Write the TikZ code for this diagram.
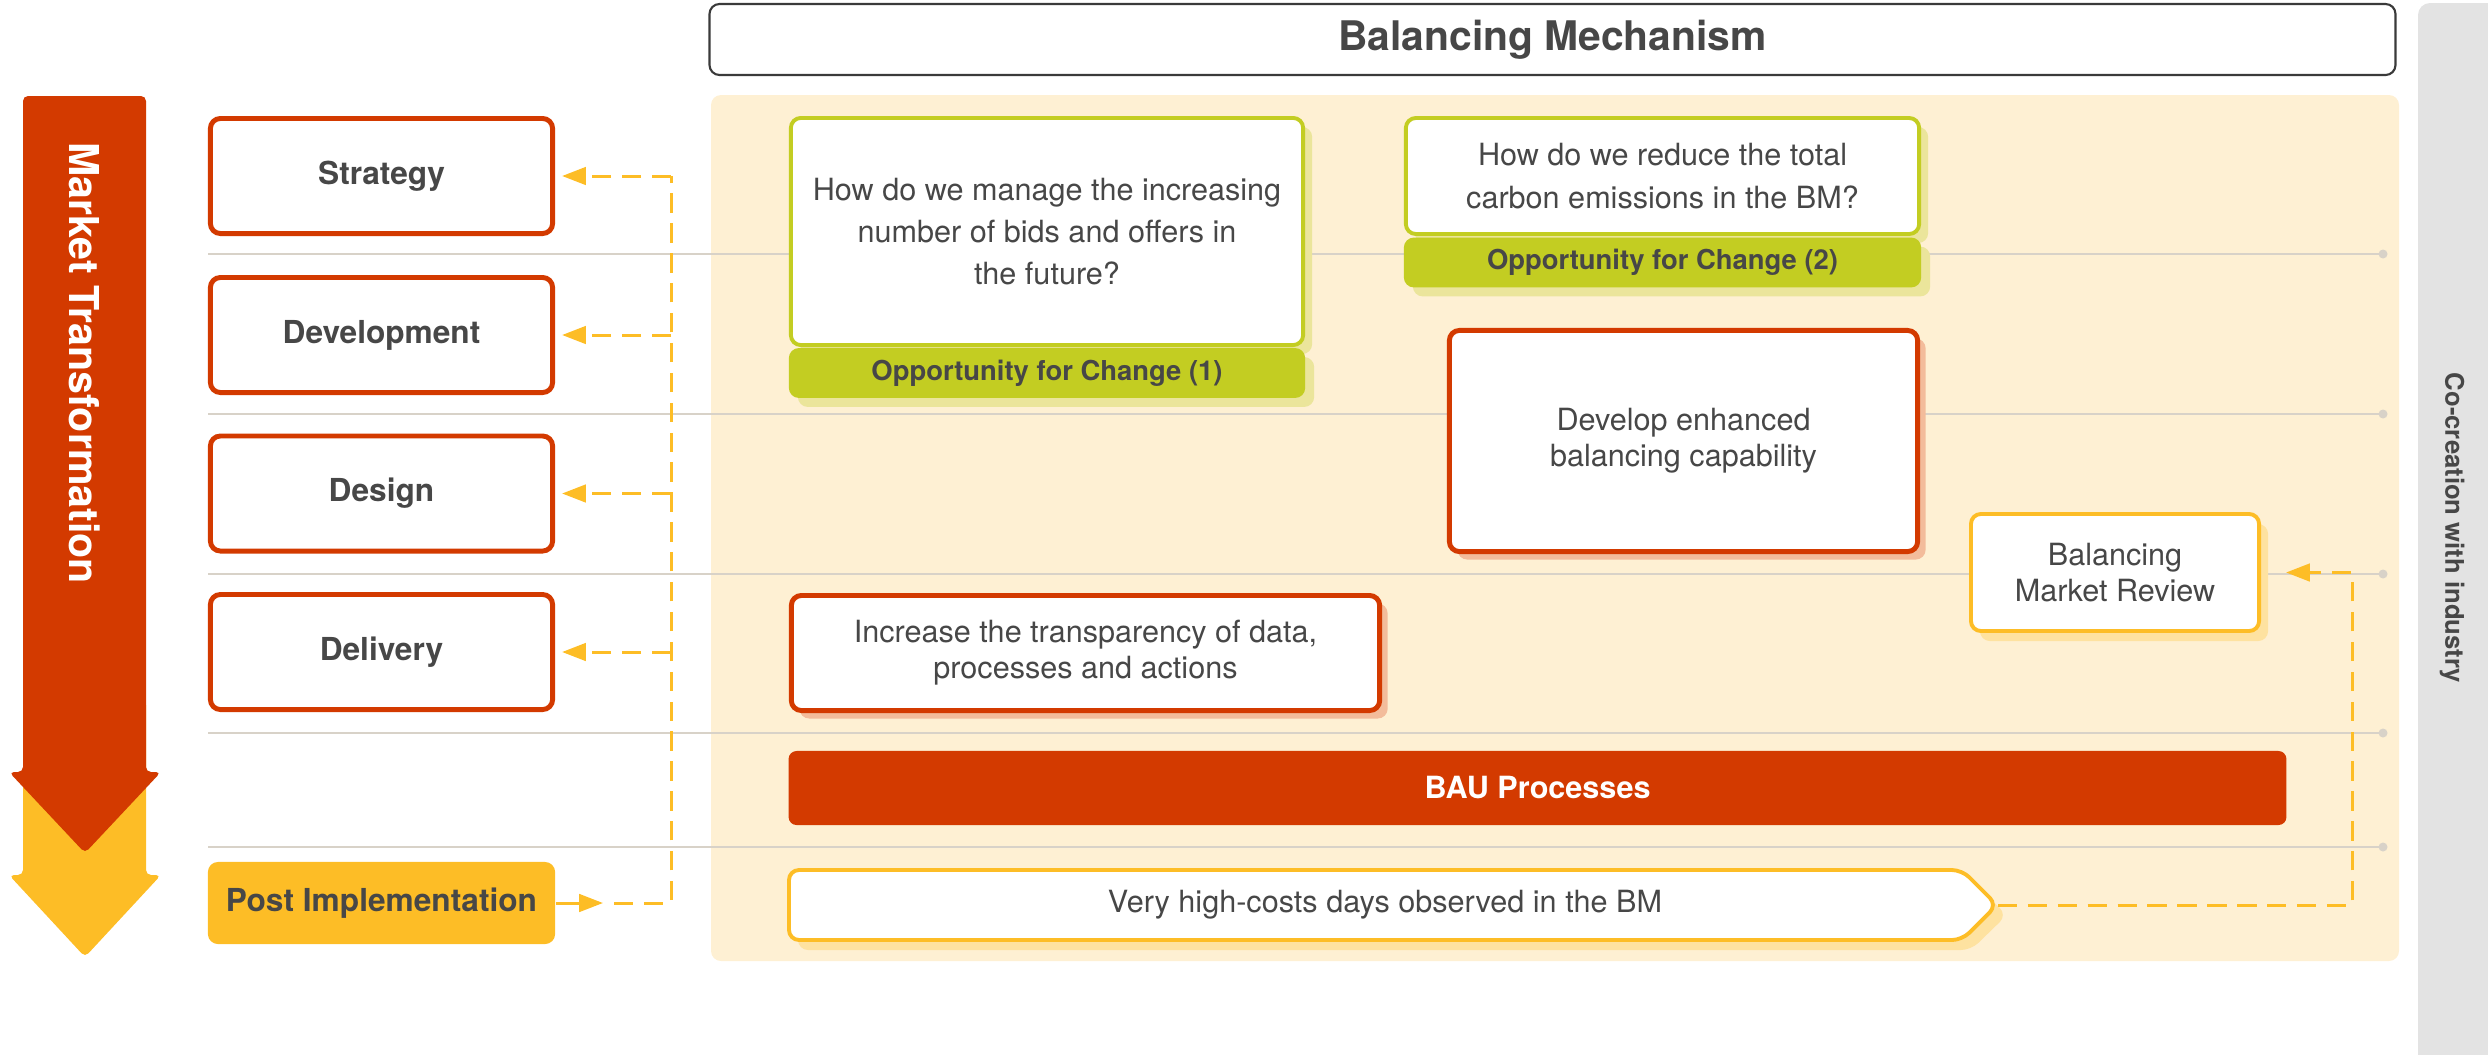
\documentclass[tikz,border=0pt]{standalone}
\usepackage{fontspec}
\setmainfont{TeX Gyre Heros}
\usetikzlibrary{arrows.meta,shadows}
\definecolor{mred}{HTML}{D33A00}
\definecolor{myel}{HTML}{FDBD26}
\definecolor{mgreen}{HTML}{C3CD22}
\definecolor{gshadow}{HTML}{EBE59B}
\definecolor{rshadow}{HTML}{F3BC9B}
\definecolor{yshadow}{HTML}{FEE2A0}
\definecolor{beige}{HTML}{FEF0D3}
\definecolor{tdark}{HTML}{474747}
\definecolor{greybar}{HTML}{E3E3E3}
\definecolor{gridc}{HTML}{D8D2C8}
\definecolor{tborder}{HTML}{3A3A3A}
\begin{document}
\begin{tikzpicture}[x=0.01cm,y=-0.01cm,
  bodyfont/.style={font=\fontsize{8.7}{12}\selectfont},
  leftbox/.style={draw=mred, line width=1.4pt, fill=white, rounded corners=0.1cm,
    minimum width=3.42cm, minimum height=1.15cm, text=tdark,
    font=\bfseries\fontsize{9}{11}\selectfont},
  postbox/.style={fill=myel, rounded corners=0.1cm, minimum width=3.47cm,
    minimum height=0.82cm, text=tdark, font=\bfseries\fontsize{9}{11}\selectfont},
  qbox/.style={draw=mgreen, line width=1.1pt, fill=white, rounded corners=0.1cm,
    text=tdark, align=center, font=\fontsize{8.7}{12}\selectfont,
    drop shadow={shadow xshift=0.09cm, shadow yshift=-0.09cm, fill=gshadow, opacity=1}},
  ofcbox/.style={fill=mgreen, rounded corners=0.1cm, text=tdark,
    font=\bfseries\fontsize{7.8}{9}\selectfont,
    drop shadow={shadow xshift=0.09cm, shadow yshift=-0.09cm, fill=gshadow, opacity=1}},
  redbox/.style={draw=mred, line width=1.4pt, fill=white, rounded corners=0.1cm,
    text=tdark, align=center, font=\fontsize{8.7}{10.3}\selectfont,
    drop shadow={shadow xshift=0.08cm, shadow yshift=-0.08cm, fill=rshadow, opacity=1}},
  yelbox/.style={draw=myel, line width=1.1pt, fill=white, rounded corners=0.1cm,
    text=tdark, align=center, font=\fontsize{8.7}{10}\selectfont,
    drop shadow={shadow xshift=0.09cm, shadow yshift=-0.1cm, fill=yshadow, opacity=1}},
  gridline/.style={draw=gridc, line width=0.6pt},
  ydash/.style={draw=myel, line width=0.85pt, dash pattern=on 5.5pt off 3pt},
  ytip/.style={-{Triangle[length=6.8pt,width=5pt]}}
]
\useasboundingbox (0,0) rectangle (2488,1054);
% right grey bar
\fill[greybar, rounded corners=0.12cm] (2418,3) rectangle (2520,1090);
\node[rotate=-90, text=tdark, font=\bfseries\fontsize{7.3}{9}\selectfont] (cocr) at (2452,528) {Co-creation with industry};
% beige area
\fill[beige, rounded corners=0.1cm] (711,95) rectangle (2399,961);
% title
\node[draw=tborder, line width=0.6pt, fill=white, rounded corners=0.1cm,
  minimum width=16.85cm, minimum height=0.71cm, text=tdark,
  font=\bfseries\fontsize{11.6}{13}\selectfont] (title) at (1552.5,39.5) {Balancing Mechanism};
% grid lines
\foreach \yy in {254,414,574,733,847} {
  \draw[gridline] (208,\yy) -- (2383,\yy);
  \fill[gridc] (2383,\yy) circle (0.045cm);
}
% market transformation arrow
\fill[myel, rounded corners=0.05cm] (23,700) -- (146,700) -- (146,875) -- (161,875) -- (85,957) -- (9,875) -- (23,875) -- cycle;
\fill[mred, rounded corners=0.05cm] (23,772) -- (23,96) -- (146,96) -- (146,772) -- (161,772) -- (85,853) -- (9,772) -- cycle;
\node[rotate=-90, text=white, font=\bfseries\fontsize{11.7}{14}\selectfont] (mt) at (85,363) {Market Transformation};
% left boxes
\node[leftbox] (strat) at (381.5,176) {Strategy};
\node[leftbox] (dev) at (381.5,335) {Development};
\node[leftbox] (des) at (381.5,493.5) {Design};
\node[leftbox] (deli) at (381.5,652) {Delivery};
\node[postbox] (post) at (381.5,903) {Post Implementation};
% opportunity boxes
\node[qbox, minimum width=5.12cm, minimum height=2.27cm] (q1) at (1047,231.5)
  {How do we manage the increasing\\number of bids and offers in\\the future?};
\node[ofcbox, minimum width=5.16cm, minimum height=0.46cm] (o1) at (1047,373) {Opportunity for Change (1)};
\node[qbox, minimum width=5.13cm, minimum height=1.16cm] (q2) at (1662.5,176)
  {How do we reduce the total\\carbon emissions in the BM?};
\node[ofcbox, minimum width=5.17cm, minimum height=0.47cm] (o2) at (1662.5,262.5) {Opportunity for Change (2)};
% red boxes
\node[redbox, minimum width=4.68cm, minimum height=2.21cm] (devcap) at (1683.5,441)
  {Develop enhanced\\balancing capability};
\node[redbox, minimum width=5.88cm, minimum height=1.15cm] (transp) at (1085.5,653)
  {Increase the transparency of data,\\processes and actions};
\node[yelbox, minimum width=2.88cm, minimum height=1.17cm] (bmr) at (2115,572.5)
  {Balancing\\Market Review};
\node[fill=mred, rounded corners=0.08cm, minimum width=14.97cm, minimum height=0.74cm,
  text=white, font=\bfseries\fontsize{8.7}{10}\selectfont] (bau) at (1537.5,788) {BAU Processes};
% very high-costs shape
\fill[yshadow, rounded corners=0.1cm] (798,880) -- (1971,880) -- (2007,915) -- (1971,950) -- (798,950) -- cycle;
\draw[draw=myel, fill=white, line width=1.1pt, rounded corners=0.1cm] (789,870) -- (1962,870) -- (1997,905) -- (1962,940) -- (789,940) -- cycle;
\coordinate (vtip) at (1998,905);
\node[text=tdark, font=\fontsize{8.7}{10}\selectfont] (vhc) at (1385,905) {Very high-costs days observed in the BM};
% left connectors
\coordinate (pj) at (603,903);
\coordinate (ps) at (614,903);
\coordinate (jb) at (671,903);
\coordinate (j1) at (671,176);
\coordinate (j2) at (671,335);
\coordinate (j3) at (671,493.5);
\coordinate (j4) at (671,652);
\draw[draw=myel, line width=0.85pt, ytip] (post.east) -- (pj);
\draw[ydash] (ps) -- (jb) -- (j1);
\foreach \j/\b in {j1/strat,j2/dev,j3/des,j4/deli} {
  \draw[ydash, ytip, shorten >=0.07cm] (\j) -- (\b.east);
}
% right connector
\coordinate (rc) at (2352,905);
\draw[ydash, ytip, shorten >=0.25cm] (vtip) -- (rc) |- (bmr.east);
\end{tikzpicture}
\end{document}
